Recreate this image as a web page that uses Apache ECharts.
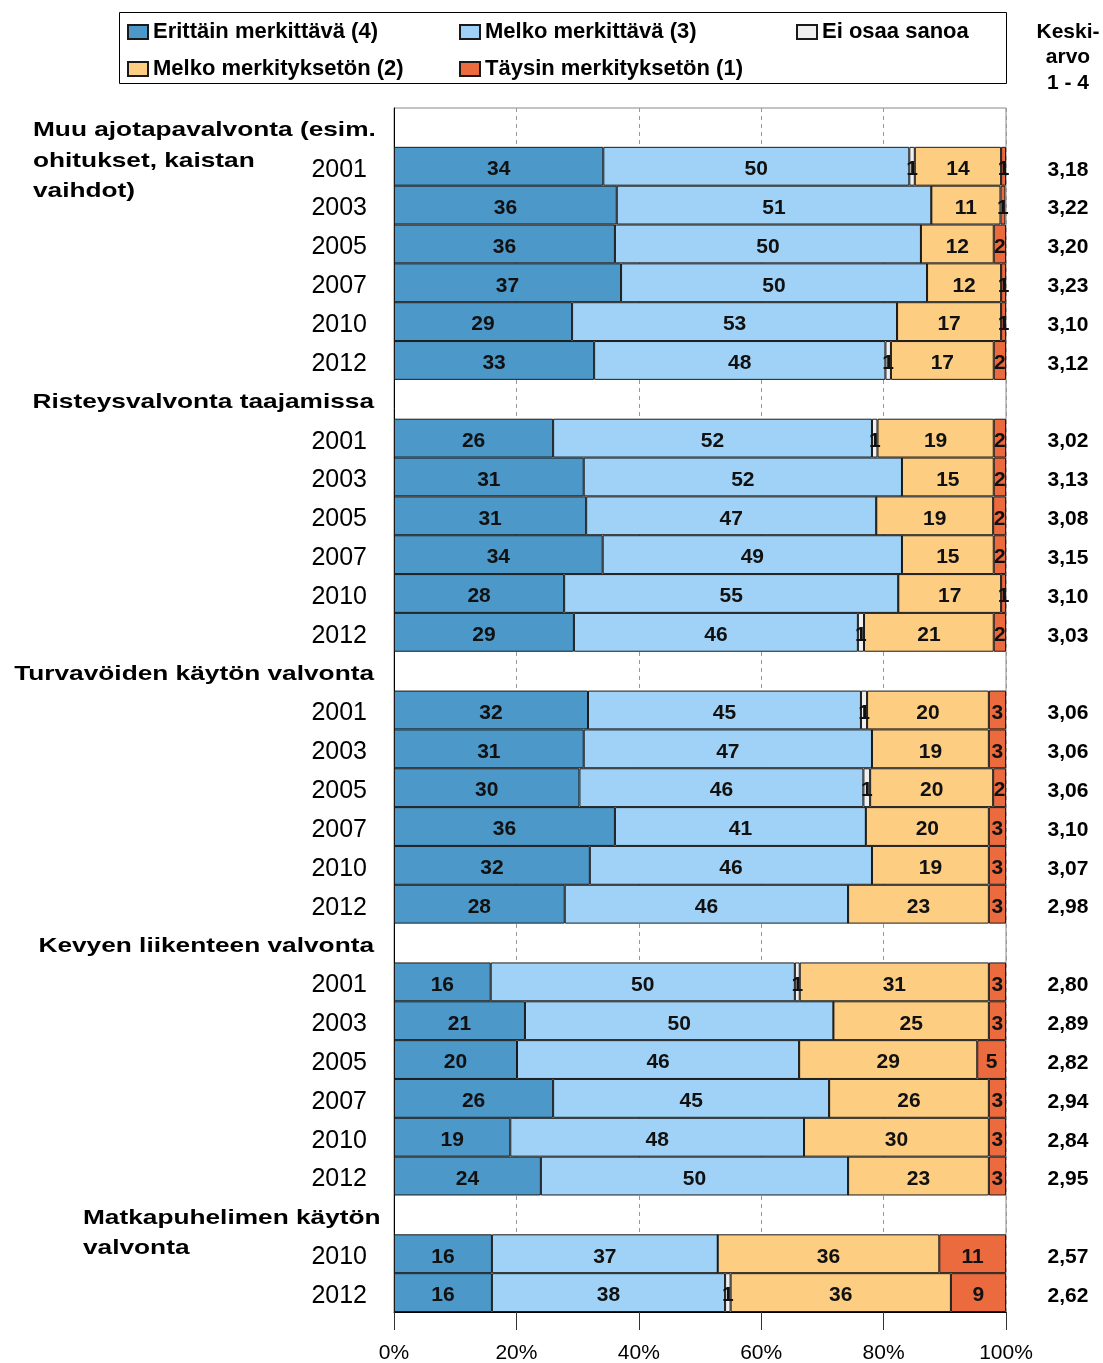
<!DOCTYPE html>
<html>
<head>
<meta charset="utf-8">
<script src="https://cdn.jsdelivr.net/npm/echarts@6/dist/echarts.min.js"></script>
<style>
  html, body { margin: 0; padding: 0; background: #fff; }
  #main { width: 1103px; height: 1363px; }
</style>
</head>
<body>
<div id="main"></div>
<script>
const FONT = '"Liberation Sans", Arial, sans-serif'

const groupTitles = [
    'Muu ajotapavalvonta (esim.\nohitukset, kaistan\nvaihdot)',
    'Risteysvalvonta taajamissa',
    'Turvavöiden käytön valvonta',
    'Kevyen liikenteen valvonta',
    'Matkapuhelimen käytön\nvalvonta'
]
const groupYears = [
    ['2001', '2003', '2005', '2007', '2010', '2012'],
    ['2001', '2003', '2005', '2007', '2010', '2012'],
    ['2001', '2003', '2005', '2007', '2010', '2012'],
    ['2001', '2003', '2005', '2007', '2010', '2012'],
    ['2010', '2012']
]

const seriesNames = ['Erittäin merkittävä (4)', 'Melko merkittävä (3)', 'Ei osaa sanoa',
    'Melko merkityksetön (2)', 'Täysin merkityksetön (1)']
const seriesColors = ['#4b98c9', '#9fd2f6', '#f0f0f0', '#fdcd82', '#eb6b3f']

// share %, one value per year row, groups in order
const erittain = [34.2, 36.4, 36.1, 37.1, 29.1, 32.7, 26.0, 31.0, 31.4, 34.1, 27.8, 29.4,
    31.7, 31.0, 30.3, 36.1, 32.0, 27.9, 15.8, 21.4, 20.1, 26.0, 19.0, 24.0, 16.0, 16.0]
const melkoMerk = [50.0, 51.4, 50.0, 50.0, 53.1, 47.6, 52.1, 52.0, 47.4, 48.9, 54.6, 46.4,
    44.6, 47.1, 46.4, 41.0, 46.1, 46.3, 49.7, 50.4, 46.1, 45.1, 48.0, 50.2, 36.9, 38.1]
const eiOsaa = [0.9, 0, 0, 0, 0, 0.9, 0.9, 0, 0, 0, 0, 1.0,
    1.0, 0, 1.1, 0, 0, 0, 0.8, 0, 0, 0, 0, 0, 0, 0.9]
const melkoMerkton = [14.1, 11.3, 11.9, 12.1, 17.0, 16.8, 19.0, 15.0, 19.1, 15.0, 16.8, 21.2,
    19.9, 19.1, 20.1, 20.1, 19.1, 23.0, 30.9, 25.4, 29.1, 26.1, 30.2, 23.0, 36.2, 36.0]
const taysin = [0.8, 0.8, 2.0, 0.8, 0.8, 2.0, 2.0, 2.0, 2.1, 2.0, 0.8, 2.0,
    2.8, 2.8, 2.1, 2.8, 2.8, 2.8, 2.8, 2.8, 4.7, 2.8, 2.8, 2.8, 10.9, 9.0]
const keskiarvo = ['3,18', '3,22', '3,20', '3,23', '3,10', '3,12', '3,02', '3,13', '3,08', '3,15', '3,10', '3,03',
    '3,06', '3,06', '3,06', '3,10', '3,07', '2,98', '2,80', '2,89', '2,82', '2,94', '2,84', '2,95', '2,57', '2,62']

const xTicks = [0, 20, 40, 60, 80, 100]

// build rows: a blank header row before each group
const rowKeys = []
const yearLabels = []
const avgLabels = []
const headerRows = []
const rowSource = []
let k = 0
groupYears.forEach((years, g) => {
    headerRows.push(rowKeys.length)
    rowKeys.push('h' + g)
    yearLabels.push('')
    avgLabels.push('')
    rowSource.push(-1)
    years.forEach(y => {
        rowKeys.push(g + '-' + y)
        yearLabels.push(y)
        avgLabels.push(keskiarvo[k])
        rowSource.push(k)
        k++
    })
})

const valueSets = [erittain, melkoMerk, eiOsaa, melkoMerkton, taysin]

const chart = echarts.init(document.getElementById('main'))

const legendCommon = {
    orient: 'vertical',
    top: 21,
    itemGap: 15,
    itemWidth: 20,
    itemHeight: 14,
    icon: 'rect',
    padding: 0,
    selectedMode: false,
    textStyle: { fontFamily: FONT, fontSize: 22, fontWeight: 'bold', color: '#000' }
}

const option = {
    animation: false,
    textStyle: { fontFamily: FONT },
    grid: { left: 394, right: 97, top: 108, bottom: 51, show: true, borderColor: '#888', borderWidth: 1, outerBoundsMode: 'none' },
    legend: [
        Object.assign({ left: 127, data: [seriesNames[0], seriesNames[3]] }, legendCommon),
        Object.assign({ left: 459, data: [seriesNames[1], seriesNames[4]] }, legendCommon),
        Object.assign({ left: 796, data: [seriesNames[2]] }, legendCommon)
    ],
    xAxis: {
        type: 'value',
        min: xTicks[0],
        max: xTicks[xTicks.length - 1],
        interval: 20,
        axisLine: { show: true, lineStyle: { color: '#000' } },
        axisTick: { show: true, length: 18, lineStyle: { color: '#333' } },
        axisLabel: { formatter: '{value}%', fontSize: 21, color: '#000', margin: 31, fontFamily: FONT },
        splitLine: { show: true, lineStyle: { type: [4, 4], color: '#999' } }
    },
    yAxis: [
        {
            type: 'category',
            inverse: true,
            data: rowKeys,
            axisLine: { show: true, lineStyle: { color: '#000' } },
            axisTick: { show: false },
            axisLabel: {
                margin: 27,
                formatter: (v, i) => (yearLabels[i] ? '{y|' + yearLabels[i] + '}' : ''),
                rich: { y: { fontSize: 25, color: '#000', fontFamily: FONT, padding: [7, 0, 0, 0] } }
            }
        },
        {
            type: 'category',
            inverse: true,
            position: 'right',
            data: rowKeys,
            axisLine: { show: false },
            axisTick: { show: false },
            axisLabel: {
                margin: 62,
                align: 'center',
                formatter: (v, i) => (avgLabels[i] ? '{a|' + avgLabels[i] + '}' : ''),
                rich: { a: { fontSize: 21, fontWeight: 'bold', color: '#000', fontFamily: FONT, padding: [7, 0, 0, 0] } }
            }
        }
    ],
    series: valueSets.map((vals, s) => ({
        name: seriesNames[s],
        type: 'bar',
        stack: 'total',
        barWidth: '100%',
        barCategoryGap: 0,
        itemStyle: { color: seriesColors[s], borderColor: '#1a1a1a', borderWidth: 1 },
        label: {
            show: true,
            position: 'inside',
            offset: [0, 3],
            fontSize: 21,
            fontWeight: 'bold',
            color: '#111',
            fontFamily: FONT,
            formatter: p => (p.value > 0 ? String(Math.round(p.value)) : '')
        },
        data: rowSource.map(j => (j < 0 ? null : vals[j]))
    }))
}

option && chart.setOption(option)

// group titles and the "Keski-arvo" header, placed on the header rows
const titleX = [33, 374, 374, 374, 83]
const titleAlign = ['left', 'right', 'right', 'right', 'left']
const graphics = [
    {
        type: 'rect',
        shape: { x: 119.5, y: 12.5, width: 887, height: 71 },
        style: { fill: null, stroke: '#000', lineWidth: 1 }
    },
    {
        type: 'text',
        x: 1068,
        y: 19,
        style: {
            text: 'Keski-\narvo\n1 - 4', fontFamily: FONT, fontSize: 21, fontWeight: 'bold', fill: '#000',
            align: 'center', verticalAlign: 'top', lineHeight: 25.5
        }
    }
]
headerRows.forEach((row, g) => {
    const y = chart.convertToPixel({ yAxisIndex: 0 }, row)
    graphics.push({
        type: 'text',
        x: titleX[g],
        y: y - 12,
        scaleX: 1.25,
        style: {
            text: groupTitles[g], fontFamily: FONT, fontSize: 21, fontWeight: 'bold', fill: '#000',
            align: titleAlign[g], verticalAlign: 'top', lineHeight: 30.5
        }
    })
})
chart.setOption({ graphic: graphics })
</script>
</body>
</html>
